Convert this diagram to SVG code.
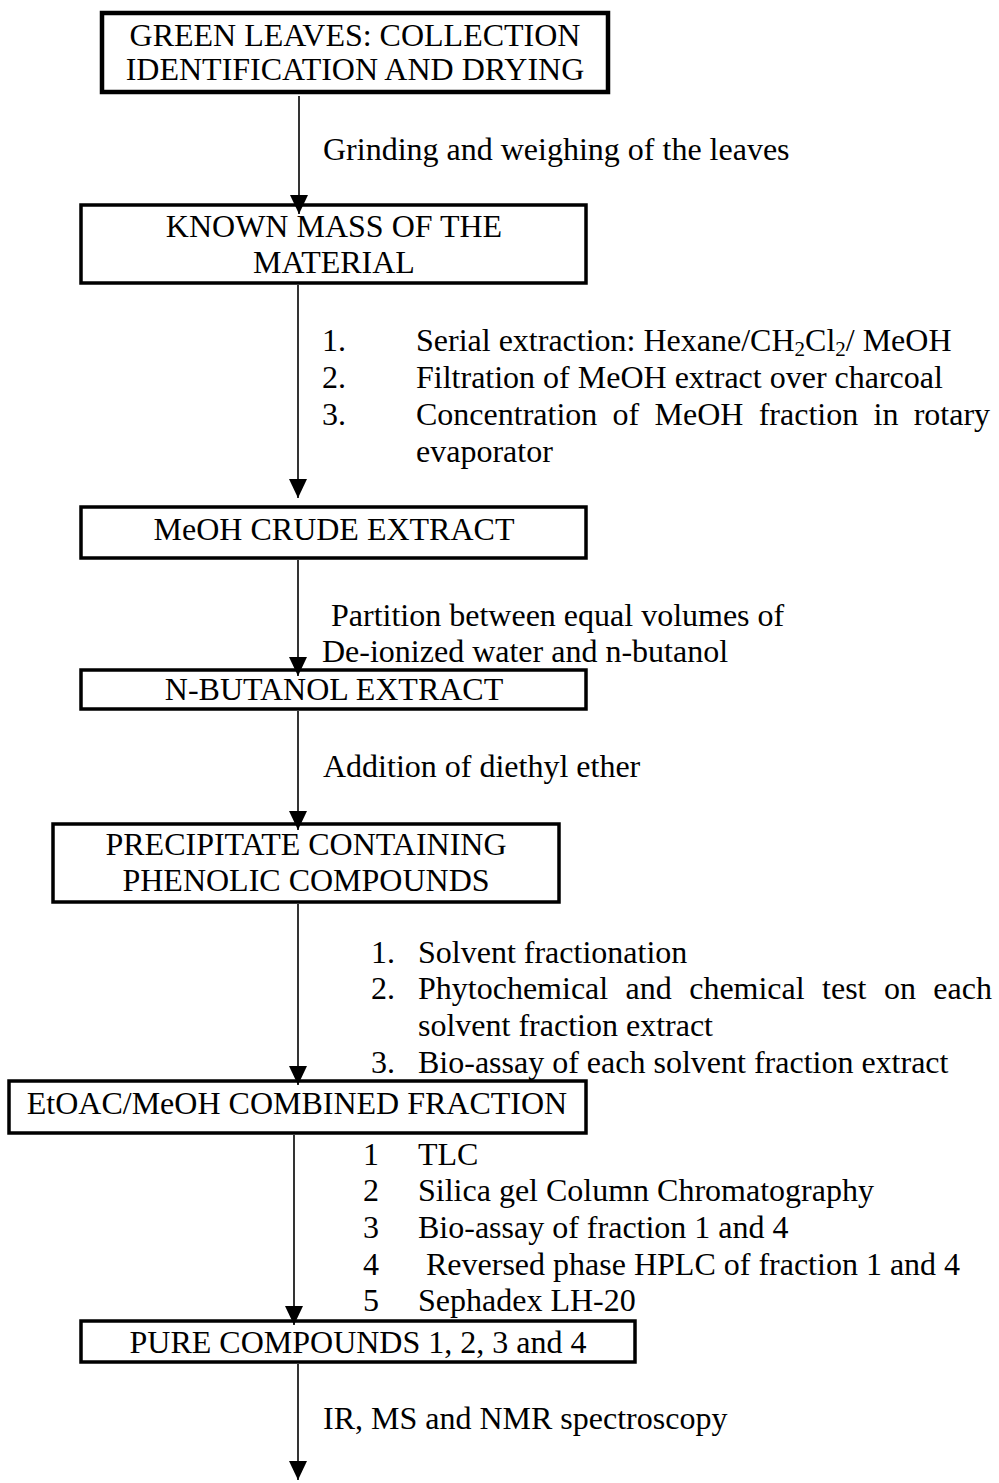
<svg xmlns="http://www.w3.org/2000/svg" width="999" height="1483" viewBox="0 0 999 1483">
<style>
text{font-family:"Liberation Serif","Times New Roman",serif;font-size:32px;fill:#000}
.c{text-anchor:middle}
.box{fill:#fff;stroke:#000;stroke-width:3.5}
.box1{fill:#fff;stroke:#000;stroke-width:4.5}
.ln{stroke:#000;stroke-width:1.6;fill:none;marker-end:url(#ah)}
.sub{font-size:21px}
</style>
<defs>
<marker id="ah" viewBox="0 0 19 18" markerWidth="19" markerHeight="18" refX="19" refY="9" orient="auto" markerUnits="userSpaceOnUse">
<path d="M0,0 L19,9 L0,18 z" fill="#000"/>
</marker>
</defs>
<rect width="999" height="1483" fill="#fff"/>
<g id="node1">
<rect class="box1" x="102" y="13" width="506" height="79"/>
<text class="c" x="355" y="46">GREEN LEAVES: COLLECTION</text>
<text class="c" x="355" y="80">IDENTIFICATION AND DRYING</text>
</g>
<g id="label1">
<text x="323" y="160">Grinding and weighing of the leaves</text>
</g>
<g id="node2">
<rect class="box" x="81" y="205" width="505" height="78"/>
<text class="c" x="334" y="237">KNOWN MASS OF THE</text>
<text class="c" x="334" y="273">MATERIAL</text>
</g>
<g id="label2">
<text x="322" y="351">1.</text>
<text x="416" y="351">Serial extraction: Hexane/CH<tspan class="sub" dy="5">2</tspan><tspan dy="-5">Cl</tspan><tspan class="sub" dy="5">2</tspan><tspan dy="-5">/ MeOH</tspan></text>
<text x="322" y="388">2.</text>
<text x="416" y="388">Filtration of MeOH extract over charcoal</text>
<text x="322" y="425">3.</text>
<text x="416" y="425" word-spacing="7.3">Concentration of MeOH fraction in rotary</text>
<text x="416" y="462">evaporator</text>
</g>
<g id="node3">
<rect class="box" x="81" y="507" width="505" height="51"/>
<text class="c" x="334" y="540">MeOH CRUDE EXTRACT</text>
</g>
<g id="label3">
<text x="331" y="626">Partition between equal volumes of</text>
<text x="322" y="662">De-ionized water and n-butanol</text>
</g>
<g id="node4">
<rect class="box" x="81" y="670" width="505" height="39"/>
<text class="c" x="334" y="700">N-BUTANOL EXTRACT</text>
</g>
<g id="label4">
<text x="323" y="777">Addition of diethyl ether</text>
</g>
<g id="node5">
<rect class="box" x="53" y="824" width="506" height="78"/>
<text class="c" x="306" y="855">PRECIPITATE CONTAINING</text>
<text class="c" x="306" y="891">PHENOLIC COMPOUNDS</text>
</g>
<g id="label5">
<text x="371" y="963">1.</text>
<text x="418" y="963">Solvent fractionation</text>
<text x="371" y="999">2.</text>
<text x="418" y="999" word-spacing="9.4">Phytochemical and chemical test on each</text>
<text x="418" y="1036">solvent fraction extract</text>
<text x="371" y="1073">3.</text>
<text x="418" y="1073">Bio-assay of each solvent fraction extract</text>
</g>
<g id="node6">
<rect class="box" x="9" y="1081" width="577" height="52"/>
<text class="c" x="297" y="1114">EtOAC/MeOH COMBINED FRACTION</text>
</g>
<g id="label6">
<text x="363" y="1165">1</text>
<text x="418" y="1165">TLC</text>
<text x="363" y="1201">2</text>
<text x="418" y="1201">Silica gel Column Chromatography</text>
<text x="363" y="1238">3</text>
<text x="418" y="1238">Bio-assay of fraction 1 and 4</text>
<text x="363" y="1275">4</text>
<text x="426" y="1275">Reversed phase HPLC of fraction 1 and 4</text>
<text x="363" y="1311">5</text>
<text x="418" y="1311">Sephadex LH-20</text>
</g>
<g id="node7">
<rect class="box" x="81" y="1321" width="554" height="41"/>
<text class="c" x="358" y="1353">PURE COMPOUNDS 1, 2, 3 and 4</text>
</g>
<g id="label7">
<text x="323" y="1429">IR, MS and NMR spectroscopy</text>
</g>
<g id="connectors">
<line class="ln" x1="299" y1="96" x2="299" y2="214"/>
<line class="ln" x1="298" y1="285" x2="298" y2="498"/>
<line class="ln" x1="298" y1="560" x2="298" y2="676"/>
<line class="ln" x1="298" y1="711" x2="298" y2="830"/>
<line class="ln" x1="298" y1="904" x2="298" y2="1085"/>
<line class="ln" x1="294" y1="1135" x2="294" y2="1325"/>
<line class="ln" x1="298" y1="1364" x2="298" y2="1480"/>
</g>
</svg>
